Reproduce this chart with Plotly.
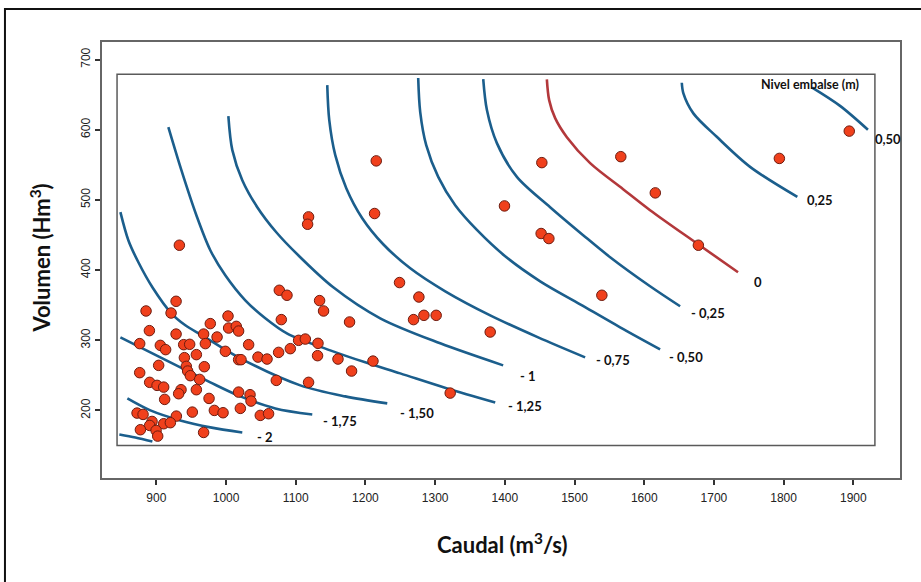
import plotly.graph_objects as go

# Observed flow / volume pairs (Caudal m3/s, Volumen Hm3)
caudal = [928.3, 885.2, 921.1, 1002.8, 977.4, 1003.7, 1014.7, 1018.0, 890.0, 928.3,
          967.8, 987.1, 876.1, 905.7, 913.3, 939.2, 947.8, 970.3, 1032.4, 999.0,
          957.4, 940.2, 1018.0, 1021.5, 1045.8, 1058.8, 1075.4, 1092.2, 1104.1, 1113.7,
          1131.9, 1131.3, 1076.4, 1087.4, 1079.3, 1134.2, 1139.9, 1177.2, 1160.6, 1210.8,
          1180.1, 1248.9, 903.3, 943.0, 944.9, 948.8, 968.8, 876.1, 890.4, 901.0,
          910.5, 962.1, 935.4, 932.0, 957.4, 911.9, 975.6, 1018.0, 1034.4, 1035.8,
          1072.1, 1118.4, 1020.5, 983.2, 995.7, 951.6, 1049.1, 1061.0, 872.3, 880.9,
          928.7, 893.8, 890.4, 910.5, 920.1, 877.1, 899.6, 901.9, 967.8, 933.0,
          1118.4, 1117.0, 1215.5, 1213.1, 1399.5, 1453.1, 1452.1, 1463.2, 1566.4, 1615.9,
          1539.2, 1276.7, 1269.0, 1283.9, 1301.5, 1379.0, 1321.6, 1677.7, 1793.9, 1894.2]
volumen = [355.5, 341.7, 338.8, 334.5, 323.7, 317.4, 319.8, 313.1, 313.7, 308.8,
           308.8, 304.6, 295.2, 292.7, 286.6, 293.7, 294.2, 295.2, 293.7, 284.2,
           279.5, 275.2, 272.3, 272.3, 276.0, 273.2, 282.7, 288.0, 299.9, 301.7,
           295.6, 278.0, 371.2, 364.1, 329.4, 356.5, 341.7, 326.0, 273.2, 270.3,
           256.1, 382.2, 264.2, 262.8, 256.1, 249.5, 262.3, 253.8, 240.0, 235.7,
           233.2, 244.2, 229.5, 223.8, 229.5, 215.7, 217.1, 226.1, 222.4, 213.3,
           242.8, 240.0, 202.9, 200.0, 196.7, 197.6, 192.9, 195.3, 196.2, 194.3,
           191.9, 184.3, 178.6, 181.0, 182.5, 172.5, 171.5, 163.4, 168.6, 435.4,
           475.8, 465.3, 555.6, 480.6, 491.4, 553.1, 452.1, 444.9, 561.6, 510.0,
           364.1, 361.6, 329.4, 335.5, 335.5, 311.7, 224.7, 435.4, 559.1, 598.0]

# Reservoir level isolines (Nivel embalse, m): caudal / volumen along each line
iso_m2_25_q = [846.9, 869.9, 894.3]
iso_m2_25_v = [165.8, 161.5, 155.8]
iso_m2_00_q = [858.4, 891.4, 934.4, 977.4, 1023.3]
iso_m2_00_v = [217.1, 200.0, 185.7, 175.8, 168.6]
iso_m1_75_q = [848.4, 891.4, 934.4, 977.4, 1020.5, 1070.7, 1123.7]
iso_m1_75_v = [304.1, 282.7, 261.4, 240.0, 220.0, 202.9, 194.3]
iso_m1_50_q = [848.4, 859.8, 874.2, 894.3, 921.5, 941.6, 965.5, 1020.5, 1106.5, 1171.0, 1231.3]
iso_m1_50_v = [482.5, 442.5, 411.1, 375.5, 338.4, 321.3, 307.0, 274.2, 235.7, 220.0, 210.0]
iso_m1_25_q = [917.2, 935.9, 957.4, 977.4, 998.9, 1027.6, 1056.3, 1087.9, 1149.5, 1199.7,
               1249.9, 1317.3, 1386.2]
iso_m1_25_v = [603.7, 542.4, 478.2, 428.3, 392.6, 356.9, 331.3, 309.4, 285.6, 268.5,
               252.8, 231.4, 211.4]
iso_m1_00_q = [1003.3, 1009.0, 1023.3, 1044.8, 1072.1, 1103.6, 1153.8, 1221.2, 1307.3, 1397.6]
iso_m1_00_v = [619.4, 570.9, 528.1, 489.6, 453.9, 421.1, 375.5, 331.3, 295.6, 264.2]
iso_m0_75_q = [1145.2, 1148.1, 1156.7, 1172.5, 1195.4, 1225.5, 1264.3, 1314.5, 1379.0,
               1447.8, 1515.2]
iso_m0_75_v = [663.6, 613.7, 563.8, 516.7, 473.9, 436.8, 402.6, 369.8, 335.5, 304.1, 275.6]
iso_m0_50_q = [1275.7, 1278.6, 1287.2, 1304.4, 1328.8, 1360.3, 1400.5, 1450.7, 1508.1,
               1565.4, 1622.8]
iso_m0_50_v = [673.6, 625.1, 578.0, 532.8, 492.4, 456.8, 419.7, 384.0, 351.2, 318.4, 287.0]
iso_m0_25_q = [1369.0, 1374.3, 1388.6, 1417.3, 1465.0, 1512.4, 1551.1, 1608.4, 1651.5]
iso_m0_25_v = [672.2, 628.0, 580.9, 532.8, 489.6, 449.7, 418.3, 376.9, 348.4]
iso_p0_00_q = [1460.3, 1463.6, 1472.2, 1489.0, 1522.4, 1569.7, 1608.4, 1677.3, 1734.6]
iso_p0_00_v = [671.8, 642.2, 616.5, 589.4, 552.4, 515.3, 485.3, 436.8, 396.9]
iso_p0_25_q = [1653.9, 1656.2, 1670.5, 1704.1, 1751.9, 1819.7]
iso_p0_25_v = [666.9, 651.8, 623.3, 589.9, 547.1, 504.3]
iso_p0_50_q = [1841.0, 1881.0, 1921.0]
iso_p0_50_v = [660.0, 634.0, 600.0]

iso_labels = ["", "- 2", "- 1,75", "- 1,50", "- 1,25", "- 1", "- 0,75",
              "- 0,50", "- 0,25", "0", "0,25", "0,50"]

x_ticks = [900, 1000, 1100, 1200, 1300, 1400, 1500, 1600, 1700, 1800, 1900]
y_ticks = [200, 300, 400, 500, 600, 700]

BLUE = "#1b5e8c"
RED = "#b3383b"

isolines = [
    (iso_m2_25_q, iso_m2_25_v), (iso_m2_00_q, iso_m2_00_v), (iso_m1_75_q, iso_m1_75_v),
    (iso_m1_50_q, iso_m1_50_v), (iso_m1_25_q, iso_m1_25_v), (iso_m1_00_q, iso_m1_00_v),
    (iso_m0_75_q, iso_m0_75_v), (iso_m0_50_q, iso_m0_50_v), (iso_m0_25_q, iso_m0_25_v),
    (iso_p0_00_q, iso_p0_00_v), (iso_p0_25_q, iso_p0_25_v), (iso_p0_50_q, iso_p0_50_v),
]
# pixel offsets of each label from the end of its line
label_shift = [(0, 0), (13, -5), (9, -7), (11, -10), (11, -4), (15, -11), (9, -3),
               (7, -8), (9, -7), (14, -10), (8, -3), (5, -9)]

fig = go.Figure()

for (q, v), lab in zip(isolines, iso_labels):
    fig.add_trace(go.Scatter(
        x=q, y=v, mode="lines", line_shape="spline",
        line=dict(color=RED if lab == "0" else BLUE, width=2.6, smoothing=0.9),
        hoverinfo="skip", showlegend=False))

fig.add_trace(go.Scatter(
    x=caudal, y=volumen, mode="markers",
    marker=dict(size=10.5, color="#f0401c", line=dict(color="#6e1c10", width=1)),
    showlegend=False))

LABEL_FONT = dict(family="Lato, 'Open Sans', sans-serif", size=13, color="#111", weight="bold")
for (q, v), lab, (dx, dy) in zip(isolines, iso_labels, label_shift):
    if not lab:
        continue
    fig.add_annotation(x=q[-1], y=v[-1], text=lab, showarrow=False,
                       xanchor="left", yanchor="middle", xshift=dx, yshift=dy,
                       font=LABEL_FONT)

fig.add_annotation(x=1838, y=664.6, text="Nivel embalse (m)", showarrow=False,
                   xanchor="center", yanchor="middle",
                   font=dict(family="Lato, sans-serif", size=12.5, color="#111", weight="bold"))

# axis titles
TITLE_FONT = dict(family="Lato, 'Open Sans', sans-serif", size=22, color="#111", weight="bold")
fig.add_annotation(xref="paper", yref="paper", x=0.5014, y=-0.1504,
                   text="Caudal (m<sup>3</sup>/s)", showarrow=False,
                   xanchor="center", yanchor="middle", font=TITLE_FONT)
fig.add_annotation(xref="paper", yref="paper", x=-0.0773, y=0.504, textangle=-90,
                   text="Volumen (Hm<sup>3</sup>)", showarrow=False,
                   xanchor="center", yanchor="middle", font=TITLE_FONT)

# inner panel frame
fig.add_shape(type="rect", xref="x", yref="y", x0=843.6, x1=1931, y0=150, y1=679,
              line=dict(color="#5a5a5a", width=1.5), layer="below")
# outer figure frame
fig.add_shape(type="rect", xref="paper", yref="paper", x0=-0.1216, x1=1.06,
              y0=-0.32, y1=1.0757, line=dict(color="#111", width=2))

axis_common = dict(showgrid=False, zeroline=False, showline=True, linecolor="#666",
                   linewidth=1.5, mirror=True, ticks="outside", ticklen=5,
                   tickwidth=1.5, tickcolor="#333",
                   tickfont=dict(family="Liberation Sans, Arial, sans-serif", size=12,
                                 color="#222"))
fig.update_xaxes(range=[822, 1967], tickmode="array", tickvals=x_ticks,
                 ticklabelstandoff=3, **axis_common)
fig.update_yaxes(range=[103.7, 725], tickmode="array", tickvals=y_ticks,
                 tickangle=-90, **axis_common)

fig.update_layout(width=921, height=582, margin=dict(l=102, r=21, t=42, b=104),
                  paper_bgcolor="white", plot_bgcolor="white", showlegend=False)

fig.write_html("out.html")
